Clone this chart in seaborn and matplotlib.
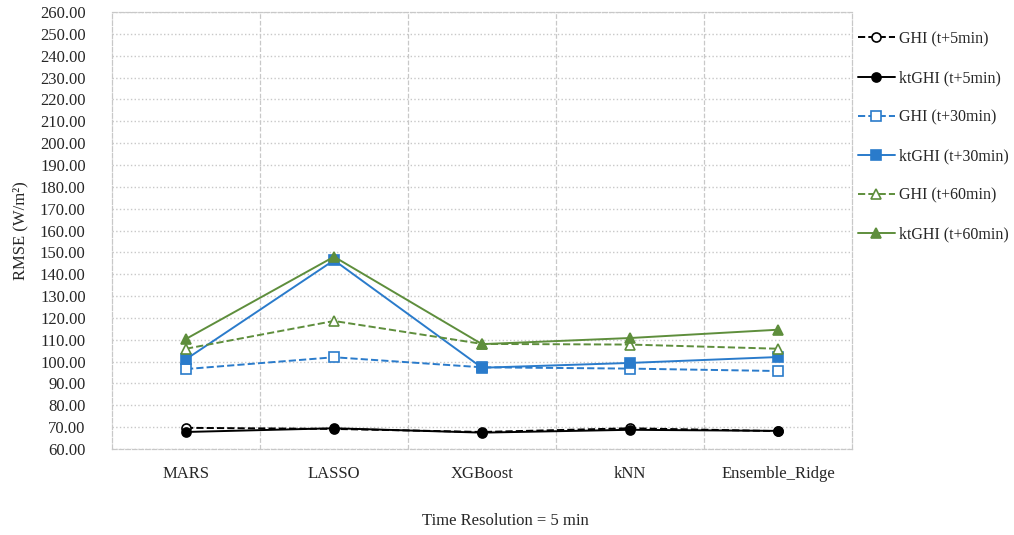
import pandas as pd
import numpy as np
import seaborn as sns
import matplotlib.pyplot as plt

models = ['MARS', 'LASSO', 'XGBoost', 'kNN', 'Ensemble_Ridge']
ghi_5 = [69.7, 69.2, 67.8, 69.5, 68.2]
ktghi_5 = [67.8, 69.5, 67.5, 68.8, 68.3]
ghi_30 = [96.6, 102.0, 97.4, 96.8, 95.7]
ktghi_30 = [101.1, 146.4, 97.2, 99.4, 102.1]
ghi_60 = [105.9, 118.6, 108.1, 107.8, 105.9]
ktghi_60 = [110.4, 148.0, 108.0, 110.8, 114.6]

sns.set_style('white')
plt.rcParams['font.family'] = ['Liberation Serif', 'DejaVu Serif']

black = '#000000'
blue = '#2A7BCB'
green = '#5E8E3C'

series = [
    ('GHI (t+5min)', ghi_5, black, '--', 'o', 'white'),
    ('ktGHI (t+5min)', ktghi_5, black, '-', 'o', black),
    ('GHI (t+30min)', ghi_30, blue, '--', 's', 'white'),
    ('ktGHI (t+30min)', ktghi_30, blue, '-', 's', blue),
    ('GHI (t+60min)', ghi_60, green, '--', '^', 'white'),
    ('ktGHI (t+60min)', ktghi_60, green, '-', '^', green),
]

fig = plt.figure(figsize=(10.14, 5.35), dpi=100)
ax = fig.add_axes([0.1105, 0.1607, 0.7297, 0.8169])

x = np.arange(len(models))
for name, vals, col, ls, mk, fc in series:
    sns.lineplot(x=x, y=vals, ax=ax, color=col, linestyle=ls, marker=mk,
                 markerfacecolor=fc, markeredgecolor=col, markeredgewidth=1.2,
                 markersize=6.5, linewidth=1.4, label=name)

ax.set_xlim(-0.5, len(models) - 0.5)
ax.set_ylim(60, 260)
ax.set_yticks(np.arange(60, 261, 10))
ax.set_yticklabels([f'{v:.2f}' for v in np.arange(60, 261, 10)], fontsize=12)
ax.set_xticks(x)
ax.set_xticklabels(models, fontsize=12)
ax.tick_params(axis='y', length=0, pad=19)
ax.tick_params(axis='x', length=0, pad=12)

ax.yaxis.grid(True, color='#c8c8c8', linestyle=':', linewidth=1)
for xv in np.arange(0.5, len(models) - 0.5, 1):
    ax.axvline(xv, color='#c8c8c8', linestyle='--', linewidth=0.9, zorder=0)
for s in ax.spines.values():
    s.set_color('#c8c8c8')
    s.set_linestyle('--')
    s.set_linewidth(0.9)

ax.set_ylabel('RMSE (W/m²)', fontsize=12, labelpad=8)
fig.text(505 / 1014, 1 - 521 / 535, 'Time Resolution = 5 min', ha='center', va='center', fontsize=12)

ax.legend_.remove()
handles, labels = ax.get_legend_handles_labels()
fig.legend(handles, labels, loc='upper left', bbox_to_anchor=(0.846, 0.942),
           frameon=False, fontsize=11.5, labelspacing=1.45, handlelength=2.3,
           handletextpad=0.3, borderaxespad=0, borderpad=0)

plt.savefig('out.png', dpi=100)
